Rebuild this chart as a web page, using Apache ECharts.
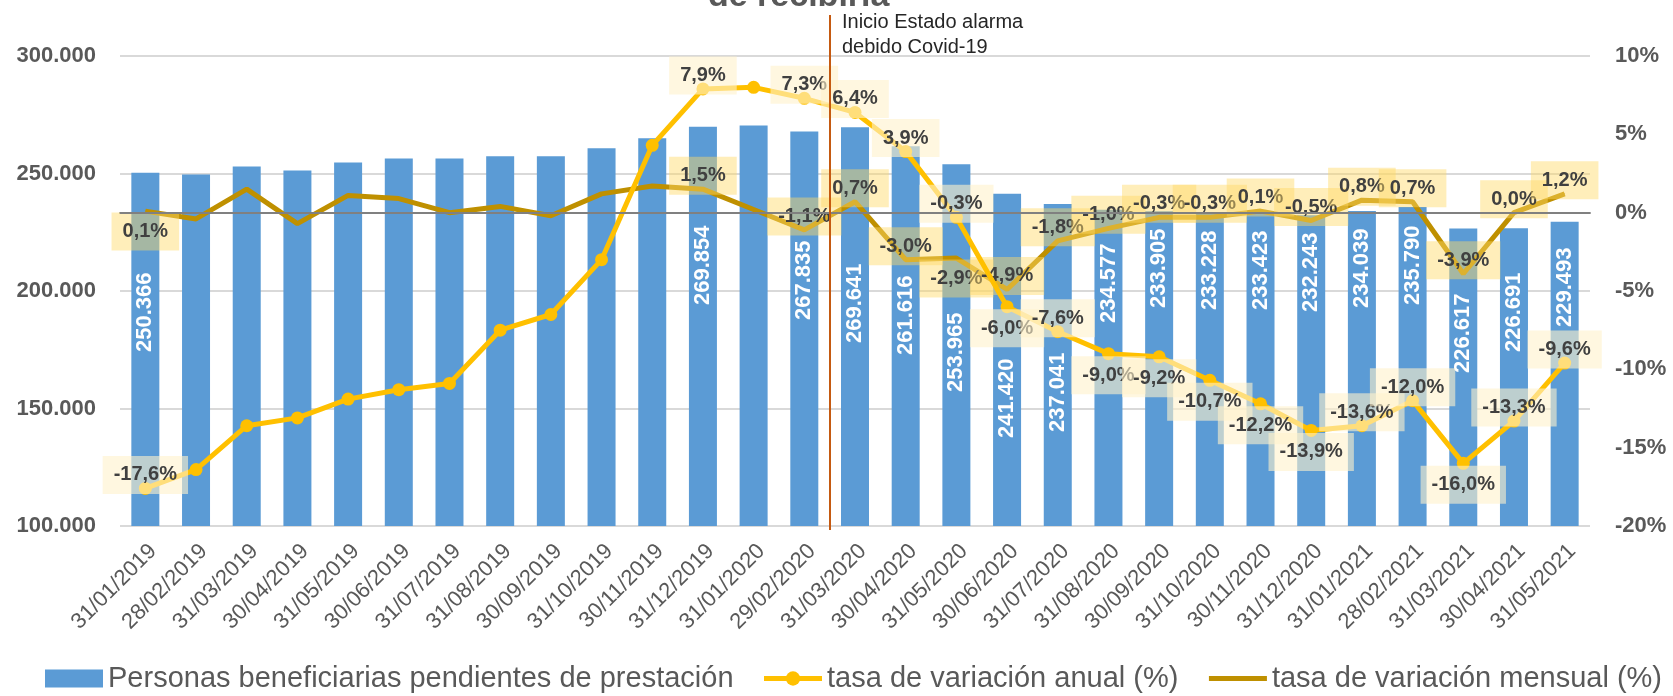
<!DOCTYPE html>
<html>
<head>
<meta charset="utf-8">
<script src="https://cdn.jsdelivr.net/npm/echarts@6/dist/echarts.min.js"></script>
<style>
  html, body { margin: 0; padding: 0; background: #fff; }
  #chart { width: 1673px; height: 696px; }
</style>
</head>
<body>
<div id="chart"></div>
<script>
const fechas = [
  '31/01/2019', '28/02/2019', '31/03/2019', '30/04/2019', '31/05/2019', '30/06/2019',
  '31/07/2019', '31/08/2019', '30/09/2019', '31/10/2019', '30/11/2019', '31/12/2019',
  '31/01/2020', '29/02/2020', '31/03/2020', '30/04/2020', '31/05/2020', '30/06/2020',
  '31/07/2020', '31/08/2020', '30/09/2020', '31/10/2020', '30/11/2020', '31/12/2020',
  '31/01/2021', '28/02/2021', '31/03/2021', '30/04/2021', '31/05/2021'
];
const pendientes = [
  250366, 249600, 253000, 251300, 254700, 256400, 256400, 257300, 257300, 260700, 265000, 269854,
  270400, 267835, 269641, 261616, 253965, 241420, 237041, 234577, 233905, 233228, 233423, 232243,
  234039, 235790, 226617, 226691, 229493
];
const tasaAnual = [
  -17.6, -16.4, -13.6, -13.1, -11.9, -11.3, -10.9, -7.5, -6.5, -3.0, 4.3, 7.9,
  8.0, 7.3, 6.4, 3.9, -0.3, -6.0, -7.6, -9.0, -9.2, -10.7, -12.2, -13.9,
  -13.6, -12.0, -16.0, -13.3, -9.6
];
const tasaMensual = [
  0.1, -0.4, 1.5, -0.7, 1.1, 0.9, 0.0, 0.4, -0.2, 1.2, 1.7, 1.5,
  0.2, -1.1, 0.7, -3.0, -2.9, -4.9, -1.8, -1.0, -0.3, -0.3, 0.1, -0.5,
  0.8, 0.7, -3.9, 0.0, 1.2
];
// ejes
const ejeIzq = { min: 100000, max: 300000, interval: 50000 };
const ejeDer = { min: -20, max: 10, interval: 5 };

// qué puntos llevan etiqueta (índices)
const etiquetasBarra = [0, 11, 13, 14, 15, 16, 17, 18, 19, 20, 21, 22, 23, 24, 25, 26, 27, 28];
const etiquetasTasa = [0, 11, 13, 14, 15, 16, 17, 18, 19, 20, 21, 22, 23, 24, 25, 26, 27, 28];
const anualDebajo = [17, 19, 20, 21, 22, 23, 26];
const mensualDebajo = [0, 16];
// distancia (px) del texto de la barra a la base, como en el original
const alturaEtiquetaBarra = {
  0: 174, 11: 221, 13: 206, 14: 183, 15: 171, 16: 134, 17: 88, 18: 94, 19: 203,
  20: 218, 21: 216, 22: 216, 23: 214, 24: 218, 25: 221, 26: 153, 27: 174, 28: 199
};

const FONT = 'Liberation Sans';
const GRIS = '#595959';

const miles = v => String(v).replace(/\B(?=(\d{3})+(?!\d))/g, '.');
const pct = v => v.toFixed(1).replace('.', ',') + '%';

const chart = echarts.init(document.getElementById('chart'));

const etiquetaTasa = {
  fontFamily: FONT,
  fontSize: 20,
  lineHeight: 22,
  fontWeight: 'bold',
  color: '#404040',
  padding: [8, 11],
  formatter: p => pct(p.value)
};

const options = {
  animation: false,
  textStyle: { fontFamily: FONT },
  title: {
    text: 'de recibirla',
    left: 708,
    top: -20,
    padding: 0,
    textStyle: { fontSize: 34, fontWeight: 'bold', color: GRIS, fontFamily: FONT }
  },
  grid: { left: 120, right: 83, top: 56, bottom: 170 },
  legend: {
    left: 40,
    top: 659,
    itemWidth: 58,
    itemHeight: 18,
    itemGap: 28,
    textStyle: { fontSize: 29, color: GRIS, fontFamily: FONT },
    data: [
      { name: 'Personas beneficiarias pendientes de prestación', icon: 'rect' },
      { name: 'tasa de variación anual (%)', lineStyle: { width: 5 } },
      {
        name: 'tasa de variación mensual (%)',
        lineStyle: { width: 5 },
        itemStyle: { color: 'rgba(0,0,0,0)', borderWidth: 0 }
      }
    ]
  },
  xAxis: {
    type: 'category',
    data: fechas,
    axisLine: { lineStyle: { color: '#8a8a8a', width: 2 } },
    axisTick: { length: 7, lineStyle: { color: '#8a8a8a', width: 2 } },
    axisLabel: {
      interval: 0, rotate: 45, margin: 14, verticalAlign: 'top',
      fontSize: 22, color: GRIS, fontFamily: FONT
    }
  },
  yAxis: [
    {
      type: 'value',
      ...ejeIzq,
      axisLine: { show: false },
      axisTick: { show: false },
      splitLine: { lineStyle: { color: '#d9d9d9', width: 2 } },
      axisLabel: { margin: 24, fontSize: 22, fontWeight: 'bold', color: GRIS, fontFamily: FONT, formatter: v => miles(v) }
    },
    {
      type: 'value',
      ...ejeDer,
      axisLine: { show: false },
      axisTick: { show: false },
      splitLine: { show: false },
      axisLabel: { margin: 25, fontSize: 22, fontWeight: 'bold', color: GRIS, fontFamily: FONT, formatter: v => v + '%' }
    }
  ],
  series: [
    {
      name: 'Personas beneficiarias pendientes de prestación',
      type: 'bar',
      barWidth: 28,
      itemStyle: { color: '#5B9BD5' },
      label: {
        show: false,
        position: 'insideBottom',
        rotate: 90,
        align: 'left',
        verticalAlign: 'middle',
        color: '#fff',
        fontSize: 22,
        fontWeight: 'bold',
        fontFamily: FONT,
        formatter: p => miles(p.value)
      },
      data: pendientes.map((v, i) => ({
        value: v,
        label: etiquetasBarra.includes(i) ? { show: true, distance: alturaEtiquetaBarra[i] } : { show: false }
      }))
    },
    {
      name: 'tasa de variación mensual (%)',
      type: 'line',
      yAxisIndex: 1,
      symbol: 'circle',
      symbolSize: 1,
      z: 3,
      lineStyle: { color: '#BF9000', width: 5 },
      itemStyle: { color: '#BF9000' },
      label: { ...etiquetaTasa, backgroundColor: 'rgba(255,217,102,0.45)' },
      markLine: {
        silent: true,
        symbol: 'none',
        label: { show: false },
        lineStyle: { color: '#808080', width: 2, type: 'solid' },
        data: [{ yAxis: 0 }]
      },
      data: tasaMensual.map((v, i) => {
        const abajo = mensualDebajo.includes(i);
        return {
          value: v,
          label: { show: etiquetasTasa.includes(i), position: abajo ? 'bottom' : 'top', distance: abajo ? 1 : -6 }
        };
      })
    },
    {
      name: 'tasa de variación anual (%)',
      type: 'line',
      yAxisIndex: 1,
      symbol: 'circle',
      symbolSize: 13,
      z: 4,
      lineStyle: { color: '#FFC000', width: 5 },
      itemStyle: { color: '#FFC000' },
      label: { ...etiquetaTasa, backgroundColor: 'rgba(255,242,204,0.6)' },
      data: tasaAnual.map((v, i) => {
        const abajo = anualDebajo.includes(i);
        return {
          value: v,
          label: { show: etiquetasTasa.includes(i), position: abajo ? 'bottom' : 'top', distance: abajo ? -4 : -12 }
        };
      })
    }
  ]
};

chart.setOption(options);

// línea vertical del estado de alarma, entre febrero y marzo de 2020
const xFeb = chart.convertToPixel({ xAxisIndex: 0 }, fechas[13]);
const xMar = chart.convertToPixel({ xAxisIndex: 0 }, fechas[14]);
const xAlarma = Math.round((xFeb + xMar) / 2);
const yBase = chart.convertToPixel({ yAxisIndex: 0 }, ejeIzq.min);

chart.setOption({
  graphic: [
    {
      type: 'line',
      z: 10,
      shape: { x1: xAlarma, y1: 15, x2: xAlarma, y2: yBase + 4 },
      style: { stroke: '#C55A11', lineWidth: 2 }
    },
    {
      type: 'text',
      z: 10,
      left: xAlarma + 12,
      top: 10,
      style: {
        text: 'Inicio Estado alarma\ndebido Covid-19',
        fontFamily: FONT,
        fontSize: 20,
        lineHeight: 25,
        fill: '#262626'
      }
    }
  ]
});
</script>
</body>
</html>
